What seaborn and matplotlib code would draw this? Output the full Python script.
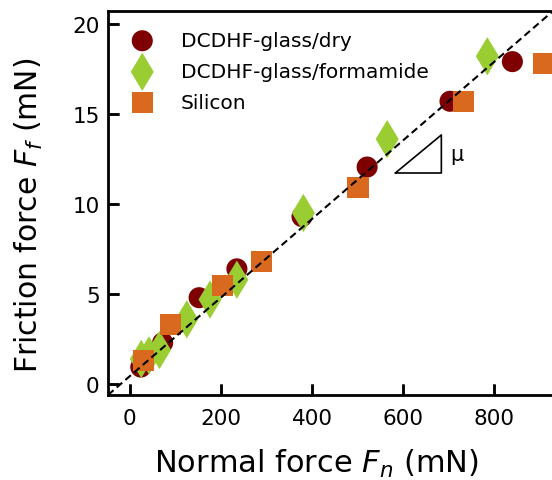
"""Friction force vs normal force for DCDHF films and silicon."""

import pandas as pd
import matplotlib
matplotlib.use("Agg")
import matplotlib.pyplot as plt
import seaborn as sns

sns.set_style("ticks")
plt.rcParams["font.family"] = ["DejaVu Sans"]
plt.rcParams["mathtext.fontset"] = "dejavusans"
plt.rcParams["text.color"] = "black"
plt.rcParams["axes.labelcolor"] = "black"

# values (normal force mN, friction force mN)
dry_fn = [24, 72, 152, 235, 378, 521, 703, 840]
dry_ff = [0.95, 2.3, 4.8, 6.4, 9.3, 12.05, 15.7, 17.9]

form_fn = [25, 42, 65, 125, 176, 235, 381, 565, 785]
form_ff = [1.4, 1.6, 1.9, 3.6, 4.7, 5.8, 9.5, 13.6, 18.2]

si_fn = [29, 90, 204, 290, 501, 732, 908]
si_ff = [1.3, 3.3, 5.5, 6.8, 10.9, 15.7, 17.8]

fit_fn = [-48, 930]
fit_slope = 0.0218
fit_icpt = 0.45

X_TICKS = [0, 200, 400, 600, 800]
Y_TICKS = [0, 5, 10, 15, 20]

COLORS = {"dry": "#7f0000", "form": "#9acd32", "si": "#d8691f"}


def main():
    fig = plt.figure(figsize=(5.52, 4.81), dpi=100)
    ax = fig.add_axes([0.1957, 0.1767, 0.8043, 0.798])

    sns.scatterplot(x=dry_fn, y=dry_ff, marker="o", s=230, color=COLORS["dry"],
                    edgecolor="none", label="DCDHF-glass/dry", ax=ax, zorder=2)
    sns.scatterplot(x=form_fn, y=form_ff, marker="d", s=380, color=COLORS["form"],
                    edgecolor="none", label="DCDHF-glass/formamide", ax=ax, zorder=3)
    sns.scatterplot(x=si_fn, y=si_ff, marker="s", s=230, color=COLORS["si"],
                    edgecolor="none", label="Silicon", ax=ax, zorder=4, clip_on=False)

    fit = pd.DataFrame({"fn": fit_fn})
    fit["ff"] = fit_icpt + fit_slope * fit["fn"]
    sns.lineplot(data=fit, x="fn", y="ff", color="black", lw=1.5,
                 linestyle=(0, (3.5, 2)), ax=ax, zorder=5)

    # slope triangle
    ax.plot([583, 684, 684, 583], [11.72, 13.83, 11.72, 11.72], color="black", lw=1.2)
    ax.text(703, 12.8, "μ", fontsize=15, va="center", ha="left")

    ax.set_xlim(-48, 927)
    ax.set_ylim(-0.6, 20.7)
    ax.set_xticks(X_TICKS)
    ax.set_yticks(Y_TICKS)
    for side in ["left", "bottom", "top"]:
        ax.spines[side].set_linewidth(2)
        ax.spines[side].set_color("black")
    ax.spines["right"].set_visible(False)

    ax.set_xlabel("Normal force $F_n$ (mN)", fontsize=22)
    ax.set_ylabel("Friction force $F_f$ (mN)", fontsize=21.5)
    ax.xaxis.set_label_coords(0.47, -0.135)
    ax.yaxis.set_label_coords(-0.142, 0.47)

    ax.legend(loc="upper left", frameon=False, fontsize=14.5, handletextpad=0.9,
              borderaxespad=0.3, labelspacing=0.6, markerscale=1.0,
              bbox_to_anchor=(0.0, 0.985))

    ax.tick_params(direction="in", length=8, width=1.8, color="black",
                   labelcolor="black", labelsize=15.5)
    ax.tick_params(axis="x", pad=9)
    ax.tick_params(axis="y", pad=6)

    # inward tick marks as plain line segments (tick markers did not render)
    ax.vlines(X_TICKS, 0, 0.029, transform=ax.get_xaxis_transform(),
              color="black", lw=1.8, clip_on=False, zorder=6)
    ax.hlines(Y_TICKS, 0, 0.025, transform=ax.get_yaxis_transform(),
              color="black", lw=1.8, clip_on=False, zorder=6)

    fig.savefig("out.png", dpi=100)
    plt.close(fig)


if __name__ == "__main__":
    main()
